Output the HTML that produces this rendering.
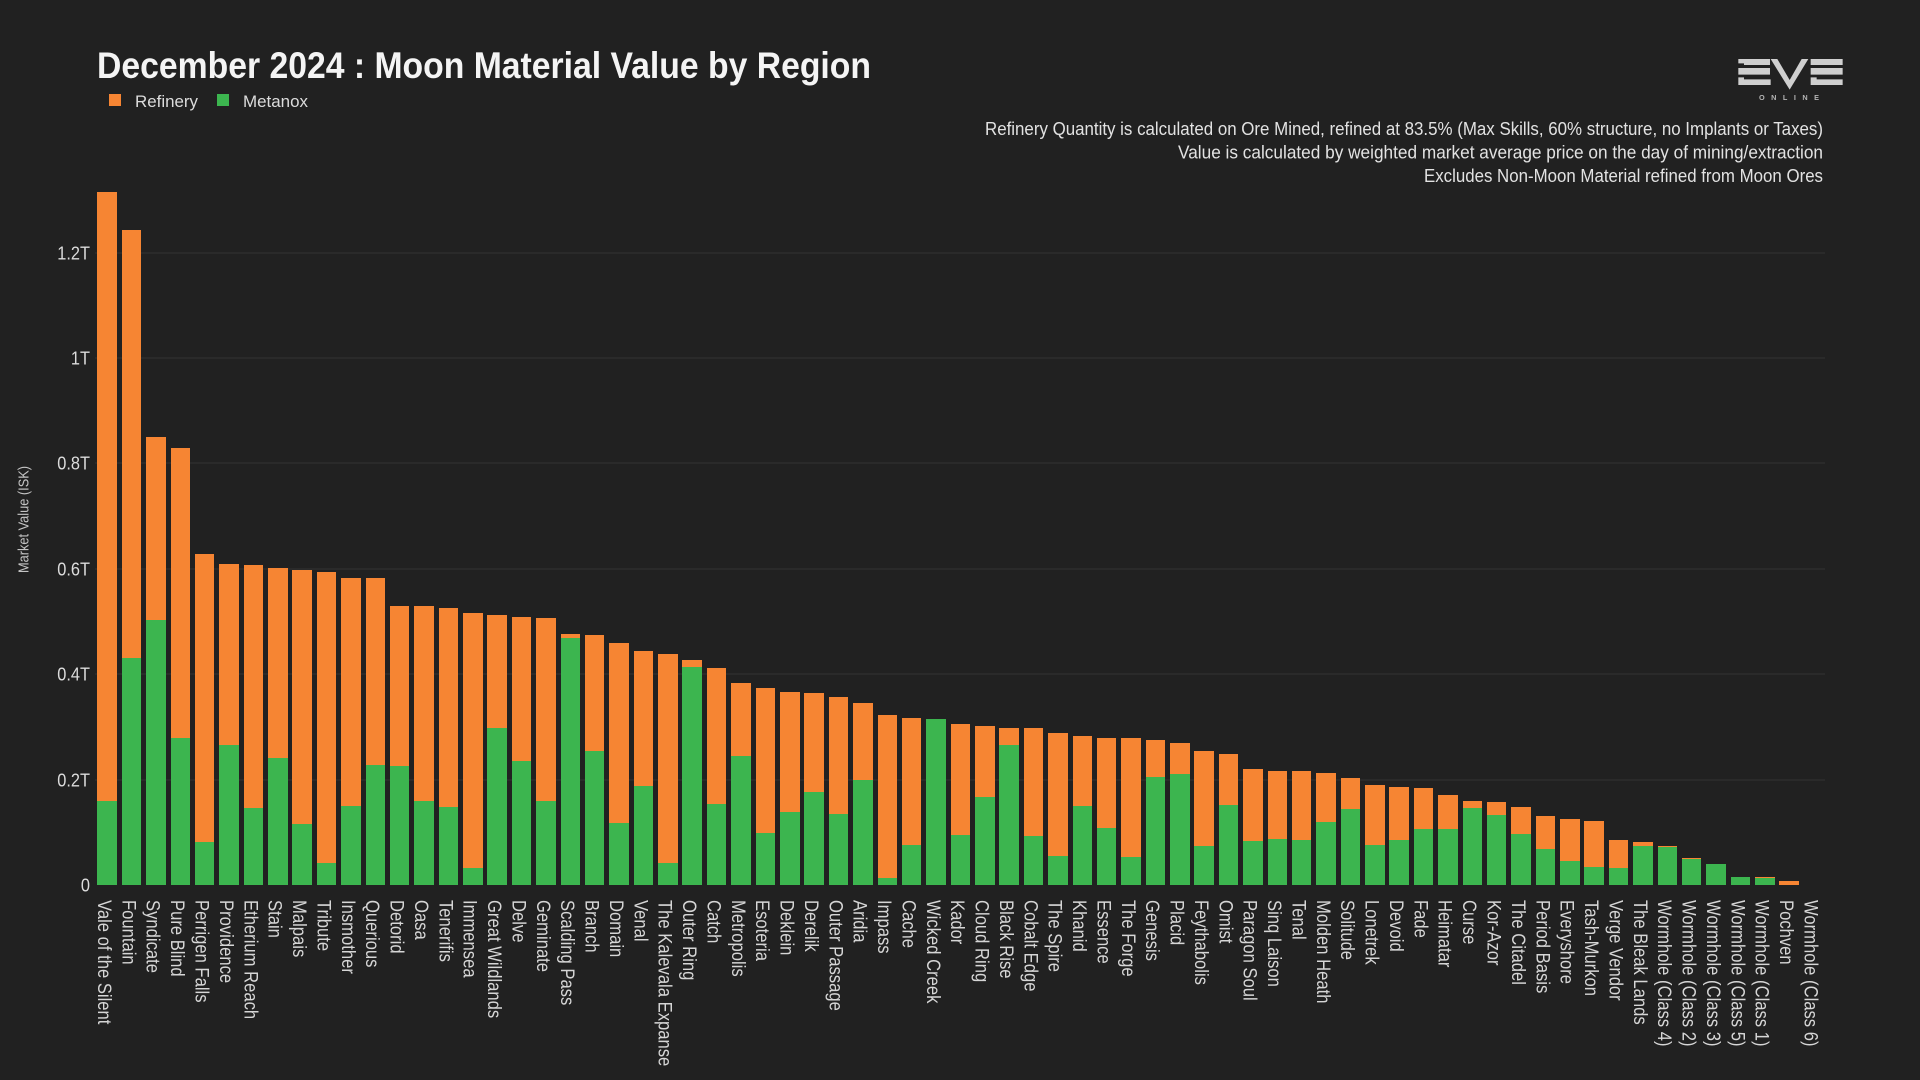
<!DOCTYPE html>
<html lang="en">
<head>
<meta charset="utf-8">
<title>December 2024 : Moon Material Value by Region</title>
<style>
  html, body { margin: 0; padding: 0; background: #212121; }
  body { width: 1920px; height: 1080px; overflow: hidden; }
  svg { display: block; font-family: "Liberation Sans", sans-serif; }
  .note { fill: #e2e2e2; font-size: 18px; }
  .tick { fill: #dcdcdc; font-size: 18.5px; }
  .cat { fill: #d6d6d6; font-size: 19px; }
</style>
</head>
<body>
<svg id="chart" xmlns="http://www.w3.org/2000/svg" width="1920" height="1080" viewBox="0 0 1920 1080">
  <rect x="0" y="0" width="1920" height="1080" fill="#212121"/>

  <text x="97" y="78" font-size="37.5" font-weight="700" fill="#f4f4f4" textLength="774" lengthAdjust="spacingAndGlyphs">December 2024 : Moon Material Value by Region</text>

  <g>
    <g>
      <rect x="109" y="94" width="12" height="12" fill="#f68533"/>
      <text x="135" y="107" font-size="17" fill="#dcdcdc" textLength="63" lengthAdjust="spacingAndGlyphs">Refinery</text>
    </g>
    <g>
      <rect x="217" y="94" width="12" height="12" fill="#3cb54f"/>
      <text x="243" y="107" font-size="17" fill="#dcdcdc" textLength="65" lengthAdjust="spacingAndGlyphs">Metanox</text>
    </g>
  </g>

  <g>
    <text class="note" x="985" y="135" textLength="838" lengthAdjust="spacingAndGlyphs">Refinery Quantity is calculated on Ore Mined, refined at 83.5% (Max Skills, 60% structure, no Implants or Taxes)</text>
    <text class="note" x="1178" y="158.5" textLength="645" lengthAdjust="spacingAndGlyphs">Value is calculated by weighted market average price on the day of mining/extraction</text>
    <text class="note" x="1424" y="182" textLength="399" lengthAdjust="spacingAndGlyphs">Excludes Non-Moon Material refined from Moon Ores</text>
  </g>

  <g transform="translate(1720,50) scale(0.3333)" fill="#cfcfcf">
    <polygon points="55,27 150,27 150,45 72,45 72,40 55,40"/>
    <polygon points="55,54 150,54 150,74 55,74"/>
    <polygon points="55,82 72,82 72,88 152,88 152,105 55,105"/>
    <polygon points="152,27 172,27 209,90 245,27 265,27 209,119"/>
    <polygon points="272,27 368,27 368,45 272,45"/>
    <polygon points="272,54 368,54 368,74 272,74"/>
    <polygon points="272,82 290,82 290,88 368,88 368,105 272,105"/>
    <text x="117" y="150" font-size="22" font-weight="700" fill="#b4b4b4" textLength="180" lengthAdjust="spacing">ONLINE</text>
  </g>

  <text transform="translate(28.5,573) rotate(-90)" x="0" y="0" font-size="15" fill="#c4c4c4" textLength="107" lengthAdjust="spacingAndGlyphs">Market Value (ISK)</text>

  <g id="grid"></g>
  <g id="yticks"></g>
  <g id="bars"></g>
  <g id="xlabels"></g>
</svg>

<script>
const categories = ["Vale of the Silent","Fountain","Syndicate","Pure Blind","Perrigen Falls","Providence","Etherium Reach","Stain","Malpais","Tribute","Insmother","Querious","Detorid","Oasa","Tenerifis","Immensea","Great Wildlands","Delve","Geminate","Scalding Pass","Branch","Domain","Venal","The Kalevala Expanse","Outer Ring","Catch","Metropolis","Esoteria","Deklein","Derelik","Outer Passage","Aridia","Impass","Cache","Wicked Creek","Kador","Cloud Ring","Black Rise","Cobalt Edge","The Spire","Khanid","Essence","The Forge","Genesis","Placid","Feythabolis","Omist","Paragon Soul","Sinq Laison","Tenal","Molden Heath","Solitude","Lonetrek","Devoid","Fade","Heimatar","Curse","Kor-Azor","The Citadel","Period Basis","Everyshore","Tash-Murkon","Verge Vendor","The Bleak Lands","Wormhole (Class 4)","Wormhole (Class 2)","Wormhole (Class 3)","Wormhole (Class 5)","Wormhole (Class 1)","Pochven","Wormhole (Class 6)"];

// Values in trillions of ISK
const metanox = [0.159,0.431,0.503,0.279,0.082,0.266,0.146,0.241,0.116,0.042,0.150,0.228,0.226,0.159,0.148,0.032,0.298,0.235,0.159,0.469,0.254,0.118,0.188,0.042,0.414,0.154,0.245,0.099,0.139,0.177,0.135,0.199,0.013,0.076,0.315,0.095,0.167,0.266,0.093,0.055,0.150,0.108,0.053,0.205,0.211,0.074,0.152,0.084,0.087,0.085,0.120,0.144,0.076,0.085,0.106,0.106,0.146,0.133,0.097,0.068,0.046,0.034,0.032,0.074,0.072,0.049,0.040,0.015,0.013,0,0];

const refinery = [1.156,0.812,0.347,0.550,0.547,0.343,0.461,0.360,0.482,0.552,0.432,0.354,0.303,0.370,0.378,0.484,0.214,0.273,0.348,0.007,0.220,0.341,0.256,0.396,0.013,0.258,0.138,0.275,0.227,0.187,0.222,0.146,0.310,0.241,0,0.211,0.135,0.032,0.205,0.233,0.133,0.171,0.226,0.070,0.058,0.180,0.097,0.136,0.129,0.131,0.093,0.059,0.114,0.101,0.078,0.065,0.013,0.025,0.051,0.063,0.079,0.087,0.053,0.008,0.002,0.002,0,0,0.002,0.008,0];

const tickValues = [0,0.2,0.4,0.6,0.8,1,1.2];
const tickLabels = ["0","0.2T","0.4T","0.6T","0.8T","1T","1.2T"];

const SVGNS = "http://www.w3.org/2000/svg";
const plotLeft = 95, plotRight = 1825.8, baseY = 885, pxPerUnit = 527;
const step = (plotRight - plotLeft) / categories.length;
const barWidth = 19.5;

function xBand(i) { return plotLeft + i * step + (step - barWidth) / 2; }
function yScale(v) { return baseY - v * pxPerUnit; }
function slug(s) { return s.toLowerCase().replace(/[^a-z0-9]+/g, '-').replace(/^-|-$/g, ''); }

const gridG = document.getElementById('grid');
const ticksG = document.getElementById('yticks');
tickValues.forEach(function (v, i) {
  const yy = Math.round(yScale(v));
  if (v !== 0) {
    const line = document.createElementNS(SVGNS, 'rect');
    
    
    line.setAttribute('x', plotLeft);
    line.setAttribute('y', yy - 0.5);
    line.setAttribute('width', 1825 - plotLeft);
    line.setAttribute('height', 1);
    line.setAttribute('fill', '#333333');
    gridG.appendChild(line);
  }
  const t = document.createElementNS(SVGNS, 'text');
  
  
  t.setAttribute('class', 'tick');
  t.setAttribute('text-anchor', 'end');
  t.setAttribute('transform', 'translate(90,' + (yy + 6.5) + ') scale(0.885,1)');
  t.textContent = tickLabels[i];
  ticksG.appendChild(t);
});

function segment(parent, name, i, lo, hi, color) {
  if (hi - lo <= 0) return;
  const x0 = Math.round(xBand(i));
  const x1 = Math.round(xBand(i) + barWidth);
  const y0 = Math.round(yScale(hi));
  const y1 = Math.round(yScale(lo));
  const r = document.createElementNS(SVGNS, 'rect');
  
  
  r.setAttribute('x', x0);
  r.setAttribute('y', y0);
  r.setAttribute('width', x1 - x0);
  r.setAttribute('height', Math.max(1, y1 - y0));
  r.setAttribute('fill', color);
  r.setAttribute('shape-rendering', 'crispEdges');
  parent.appendChild(r);
}

const barsG = document.getElementById('bars');
const labelsG = document.getElementById('xlabels');
categories.forEach(function (c, i) {
  const key = slug(c);
  segment(barsG, 'bar-metanox-' + key, i, 0, metanox[i], '#3cb54f');
  segment(barsG, 'bar-refinery-' + key, i, metanox[i], metanox[i] + refinery[i], '#f68533');

  const center = xBand(i) + barWidth / 2;
  const t = document.createElementNS(SVGNS, 'text');
  
  
  t.setAttribute('class', 'cat');
  t.setAttribute('transform', 'translate(' + (center - 9.2).toFixed(1) + ',900) rotate(90) scale(0.875,1)');
  t.textContent = c;
  labelsG.appendChild(t);
});
</script>
</body>
</html>
